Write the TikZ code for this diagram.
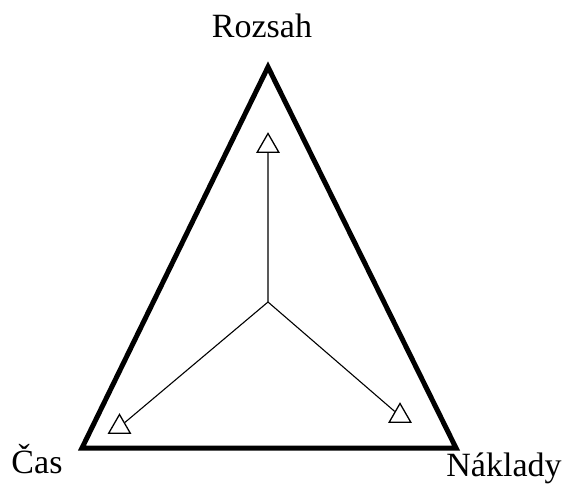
\documentclass[tikz,border=0pt]{standalone}
\usepackage{fontspec}
\setmainfont{Liberation Serif}
\usetikzlibrary{shapes.geometric}

\begin{document}
\begin{tikzpicture}[
    x=1pt,y=-1pt,
    corner/.style={font=\fontsize{34}{40}\selectfont,anchor=base,inner sep=0pt},
    tip/.style={regular polygon,regular polygon sides=3,draw,line width=1.3pt,
        minimum size=25pt,inner sep=0pt,fill=white}
]
    \useasboundingbox (0,0) rectangle (565,485);

    \coordinate (top) at (268,67);
    \coordinate (left) at (82,448);
    \coordinate (right) at (456,448);
    \coordinate (mid) at (268,302);

    \draw[line width=5pt,line join=miter]
        (top)--(left)--(right)--cycle;

    \node[tip] (tR) at (268,146) {};
    \node[tip] (tC) at (119.5,427) {};
    \node[tip] (tN) at (400,416) {};

    \draw[line width=1.1pt]
        (mid)--(tR)
        (mid)--(tC)
        (mid)--(tN);

    \node[corner] (rozsah) at (262,37) {Rozsah};
    \node[corner] (cas) at (37,473) {Čas};
    \node[corner] (naklady) at (504,476) {Náklady};
\end{tikzpicture}
\end{document}
